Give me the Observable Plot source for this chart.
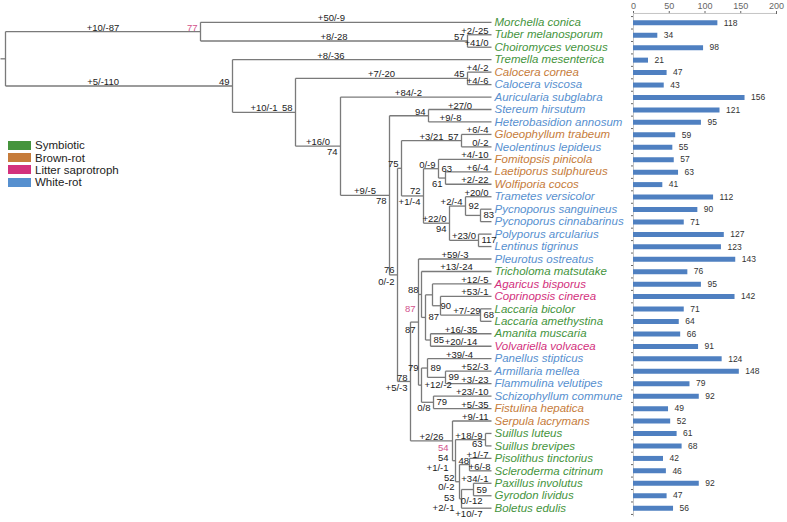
<!DOCTYPE html>
<html><head><meta charset="utf-8">
<script src="https://cdn.jsdelivr.net/npm/d3@7"></script>
<script src="https://cdn.jsdelivr.net/npm/@observablehq/plot@0.6"></script>
<style>
body{margin:0;background:#fff;font-family:Arial,"Liberation Sans",sans-serif;}
#wrap{position:relative;width:787px;height:522px;overflow:hidden;}
#wrap svg{position:absolute;left:0;top:0;}
#legend{position:absolute;left:8px;top:139px;font-size:11.5px;color:#222;z-index:5;}
.li{display:flex;align-items:center;height:12.4px;}
.sw{width:23px;height:9px;margin-right:4px;}
</style></head><body>
<div id="wrap"><div id="legend"></div></div>
<script>
// ---------------- data ----------------
const species = ["Morchella conica","Tuber melanosporum","Choiromyces venosus","Tremella mesenterica","Calocera cornea","Calocera viscosa","Auricularia subglabra","Stereum hirsutum","Heterobasidion annosum","Gloeophyllum trabeum","Neolentinus lepideus","Fomitopsis pinicola","Laetiporus sulphureus","Wolfiporia cocos","Trametes versicolor","Pycnoporus sanguineus","Pycnoporus cinnabarinus","Polyporus arcularius","Lentinus tigrinus","Pleurotus ostreatus","Tricholoma matsutake","Agaricus bisporus","Coprinopsis cinerea","Laccaria bicolor","Laccaria amethystina","Amanita muscaria","Volvariella volvacea","Panellus stipticus","Armillaria mellea","Flammulina velutipes","Schizophyllum commune","Fistulina hepatica","Serpula lacrymans","Suillus luteus","Suillus brevipes","Pisolithus tinctorius","Scleroderma citrinum","Paxillus involutus","Gyrodon lividus","Boletus edulis"];
const guild = ["Symbiotic","Symbiotic","Symbiotic","Symbiotic","Brown-rot","White-rot","White-rot","White-rot","White-rot","Brown-rot","White-rot","Brown-rot","Brown-rot","Brown-rot","White-rot","White-rot","White-rot","White-rot","White-rot","White-rot","Symbiotic","Litter saprotroph","Litter saprotroph","Symbiotic","Symbiotic","Symbiotic","Litter saprotroph","White-rot","White-rot","White-rot","White-rot","Brown-rot","Brown-rot","Symbiotic","Symbiotic","Symbiotic","Symbiotic","Symbiotic","Symbiotic","Symbiotic"];
const geneCount = [118,34,98,21,47,43,156,121,95,59,55,57,63,41,112,90,71,127,123,143,76,95,142,71,64,66,91,124,148,79,92,49,52,61,68,42,46,92,47,56];
const guildNames = ["Symbiotic","Brown-rot","Litter saprotroph","White-rot"];
const axisTicks = [0,50,100,150,200];
const leafDepth = 486;
const treeNewick = "((Morchella_conica,(Tuber_melanosporum,Choiromyces_venosus)B:267)A:195,(Tremella_mesenterica,((Calocera_cornea,Calocera_viscosa)E:172,(Auricularia_subglabra,((Stereum_hirsutum,Heterobasidion_annosum)H:39,(((Gloeophyllum_trabeum,Neolentinus_lepideus)L:60,((Fomitopsis_pinicola,(Laetiporus_sulphureus,Wolfiporia_cocos)O:7)N:15,((Trametes_versicolor,(Pycnoporus_sanguineus,Pycnoporus_cinnabarinus)Rp:15)Q:16,(Polyporus_arcularius,Lentinus_tigrinus)S:29)P:26)M:22)K:4,((Pleurotus_ostreatus,(Tricholoma_matsutake,((Agaricus_bisporus,(Coprinopsis_cinerea,(Laccaria_bicolor,Laccaria_amethystina)Lac:40)V4:8)V3:7,(Amanita_muscaria,Volvariella_volvacea)V5:5)V2:4)V:3,((Panellus_stipticus,(Armillaria_mellea,Flammulina_velutipes)W2:18)W1:6,(Schizophyllum_commune,Fistulina_hepatica)W3:12)W:3)U:8,(Serpula_lacrymans,((Suillus_luteus,Suillus_brevipes)Su:30,((Pisolithus_tinctorius,Scleroderma_citrinum)Sc:10,((Paxillus_involutus,Gyrodon_lividus)X4:12,Boletus_edulis)X3:2)X2:4)X1:3)X:42)T:13)J:8)G:49)F:45)D:63)C:227);";
const gainLoss = [["A","+10/-87"],["Morchella conica","+50/-9"],["B","+8/-28"],["Tuber melanosporum","+2/-25"],["Choiromyces venosus","+41/0"],
["C","+5/-110"],["Tremella mesenterica","+8/-36"],["D","+10/-1"],["E","+7/-20"],["Calocera cornea","+4/-2"],["Calocera viscosa","+4/-6"],
["F","+16/0"],["Auricularia subglabra","+84/-2"],["G","+9/-5"],["Stereum hirsutum","+27/0"],["Heterobasidion annosum","+9/-8"],
["J","0/-2"],["L","+3/21"],["Gloeophyllum trabeum","+6/-4"],["Neolentinus lepideus","0/-2"],["M","+1/-4"],["N","0/-9"],
["Fomitopsis pinicola","+4/-10"],["Laetiporus sulphureus","+6/-4"],["Wolfiporia cocos","+2/-22"],["P","+22/0"],["Q","+2/-4"],["Trametes versicolor","+20/0"],["S","+23/0"],
["T","+5/-3"],["Pleurotus ostreatus","+59/-3"],["Tricholoma matsutake","+13/-24"],["Agaricus bisporus","+12/-5"],["Coprinopsis cinerea","+53/-1"],["Lac","+7/-29"],["Amanita muscaria","+16/-35"],["Volvariella volvacea","+20/-14"],
["W","+12/-2"],["Panellus stipticus","+39/-4"],["Armillaria mellea","+52/-3"],["Flammulina velutipes","+3/-23"],["W3","0/8"],["Schizophyllum commune","+23/-10"],["Fistulina hepatica","+5/-35"],
["X","+2/26"],["Serpula lacrymans","+9/-11"],["Su","+18/-9"],["X1","+1/-1"],["Pisolithus tinctorius","+1/-7"],["Scleroderma citrinum","+6/-8"],["X2","0/-2"],["Paxillus involutus","+34/-1"],["X3","+2/-1"],["Gyrodon lividus","0/-12"],["Boletus edulis","+10/-7"]];
const support = [["B","57"],["C","49"],["D","58"],["E","45"],["F","74"],["G","78"],["H","94"],["J","76"],["K","75"],["L","57"],["M","72"],["N","63"],["O","61"],["P","94"],["Q","92"],["Rp","83"],["S","117"],["T","78"],["U","87"],["V","88"],["V2","87"],["V4","90"],["Lac","68"],["V5","85"],["W","79"],["W1","89"],["W2","99"],["W3","79"],["X1","54"],["X1","48"],["Su","63"],["X2","52"],["X3","53"],["X4","59"]];
const supportAlt = [["A","77"],["U","87"],["X1","54"]];

// ---------------- styling / placement ----------------
const FONT = "Arial, 'Liberation Sans', sans-serif";
const guildColor = {"Symbiotic":"#45943d","Brown-rot":"#c67c3b","Litter saprotroph":"#d3317d","White-rot":"#5790cf"};
const PINK = "#d2528c";
const CH = 4.8;
const place = {
  "gl:Morchella conica": {g: "midAbove", at: 0.45}, "gl:Tremella mesenterica": {g: "midAbove", at: 0.38},
  "gl:C": {g: "midAbove", at: 0.43}, "gl:Auricularia subglabra": {g: "midAbove", at: 0.45},
  "gl:Heterobasidion annosum": {g: "midAbove", at: 0.35},
  "gl:J": {g: "endBelow", dy: 3}, "gl:M": {g: "endBelow"}, "gl:T": {g: "endBelow", dy: 3}, "gl:W3": {g: "endBelow"},
  "gl:W": {g: "startMid"}, "gl:Lac": {g: "endAbove", dx: 0},
  "gl:X1": {g: "endBelow", dx: -7, dy: 4}, "gl:X2": {g: "endBelow", dx: -5}, "gl:X3": {g: "endBelow", dx: -7, dy: 5},
  "gl:Gyrodon lividus": {g: "endBelow", dx: -9}, "gl:Boletus edulis": {g: "endBelow", dx: -9},
  "gl:Scleroderma citrinum": {g: "endAbove", dx: -1}, "gl:Pisolithus tinctorius": {g: "endAbove", dy: 0},
  "F|74": {g: "endBelow"}, "G|78": {g: "endBelow"}, "O|61": {g: "endBelow"}, "P|94": {g: "endBelow", dy: 2}, "Su|63": {g: "endBelow", dy: 1},
  "U|87": {g: "endBelow", dy: 4}, "U|87|alt": {g: "endAbove", dy: -10}, "W|79": {g: "endAbove", dy: -14},
  "T|78": {g: "endAbove", dy: 0}, "J|76": {g: "endAbove", dy: -2}, "M|72": {g: "endAbove", dy: -2},
  "N|63": {g: "startMid"}, "Q|92": {g: "startMid"}, "Rp|83": {g: "startMid"}, "S|117": {g: "startMid"}, "Lac|68": {g: "startMid"},
  "V4|90": {g: "startMid", dx: 0}, "V2|87": {g: "startMid"}, "V5|85": {g: "startMid"}, "W1|89": {g: "startMid"}, "W2|99": {g: "startMid"},
  "W3|79": {g: "startMid"}, "X1|48": {g: "startMid"}, "X4|59": {g: "startMid"},
  "X1|54": {g: "endMid", dx: -7, dy: -3}, "X1|54|alt": {g: "endAbove", dx: -7, dy: -10},
  "X2|52": {g: "endAbove", dx: -5}, "X3|53": {g: "endMid", dx: -7, dy: -1}
};
const groupBase = {
  midAbove: {textAnchor: "middle", lineAnchor: "bottom", dx: 0, dy: -1},
  endAbove: {textAnchor: "end", lineAnchor: "bottom", dx: -3, dy: -1},
  endBelow: {textAnchor: "end", lineAnchor: "top", dx: -3, dy: 2},
  startMid: {textAnchor: "start", lineAnchor: "middle", dx: 3, dy: 0},
  endMid: {textAnchor: "end", lineAnchor: "middle", dx: -3, dy: 0}
};

// ---------------- tree layout ----------------
function parseNewick(str) {
  const s = str.replace(/\s+/g, "");
  let i = 0;
  function node() {
    const n = {children: [], length: 0};
    if (s[i] === "(") {
      i++;
      n.children.push(node());
      while (s[i] === ",") { i++; n.children.push(node()); }
      i++;
    }
    let name = "";
    while (i < s.length && !",():;".includes(s[i])) name += s[i++];
    n.name = name.replace(/_/g, " ");
    if (s[i] === ":") { i++; let num = ""; while (i < s.length && !",();".includes(s[i])) num += s[i++]; n.length = +num; }
    return n;
  }
  return node();
}
const root = parseNewick(treeNewick);
const nodes = [], byName = new Map();
(function lay(n, parent) {
  n.parent = parent;
  n.x = !parent ? 0 : (n.children.length ? parent.x + n.length : leafDepth);
  n.children.forEach(c => lay(c, n));
  n.y = n.children.length ? (n.children[0].y + n.children[n.children.length - 1].y) / 2 : species.indexOf(n.name);
  nodes.push(n); if (n.name) byName.set(n.name, n);
})(root, null);

const segs = [{x1: -5, y1: root.y, x2: 0, y2: root.y}];
for (const n of nodes) {
  if (n.parent) segs.push({x1: n.parent.x, y1: n.y, x2: n.x, y2: n.y});
  if (n.children.length) segs.push({x1: n.x, y1: n.children[0].y, x2: n.x, y2: n.children[n.children.length - 1].y});
}
const leaves = nodes.filter(n => !n.children.length);

const lab = [];
function addLabel(n, text, key, defG, fill) {
  const o = place[key] || {g: defG};
  const base = groupBase[o.g];
  let x = n.x;
  if (o.g === "midAbove") x = n.parent.x + (o.at ?? 0.5) * (n.x - n.parent.x);
  lab.push({g: o.g, dx: o.dx ?? base.dx, dy: o.dy ?? base.dy, x, y: n.y, text, fill});
}
for (const [nm, t] of gainLoss) {
  const n = byName.get(nm);
  const len = n.x - n.parent.x;
  const defG = !n.children.length ? (len > 60 ? "midAbove" : "endAbove") : (len > t.length * CH + 4 ? "midAbove" : "endAbove");
  addLabel(n, t, "gl:" + nm, defG, "#222");
}
for (const [nm, t] of support) addLabel(byName.get(nm), t, nm + "|" + t, "endAbove", "#222");
for (const [nm, t] of supportAlt) addLabel(byName.get(nm), t, nm + "|" + t + "|alt", "endAbove", PINK);

const labelMarks = Array.from(d3.group(lab, d => `${d.g}|${d.dx}|${d.dy}`), ([k, arr]) => {
  const d0 = arr[0], base = groupBase[d0.g];
  return Plot.text(arr, {x: "x", y: "y", text: "text", fill: "fill", fontSize: 9.5,
    textAnchor: base.textAnchor, lineAnchor: base.lineAnchor, dx: d0.dx, dy: d0.dy});
});

// ---------------- bars ----------------
const idx = d3.range(species.length);
const barPlot = Plot.plot({
  width: 787, height: 522,
  marginTop: 13, marginLeft: 633, marginRight: 11, marginBottom: 5,
  style: {background: "white", fontFamily: FONT, fontSize: "9px", color: "#666"},
  x: {domain: [0, 200], range: [633, 776], axis: "top", ticks: axisTicks, tickSize: 3, tickPadding: 2, label: null},
  y: {domain: [0, species.length - 1], range: [22.3, 507.7], axis: "left", ticks: d3.range(-0.5, species.length, 1), tickSize: 2, tickFormat: () => "", label: null},
  marks: [
    Plot.ruleY([-0.75], {x1: 0, x2: 200, stroke: "#c4c4c4"}),
    Plot.ruleX([0], {y1: -0.75, y2: species.length - 0.3, stroke: "#c4c4c4"}),
    Plot.ruleY(idx, {y: i => i, x1: 0, x2: i => geneCount[i], stroke: "#4f80c1", strokeWidth: 5}),
    Plot.text(idx, {x: i => geneCount[i], y: i => i, text: i => String(geneCount[i]), dx: 6, textAnchor: "start", fontSize: 8.5, fill: "#333"})
  ]
});

// ---------------- tree ----------------
const treePlot = Plot.plot({
  width: 787, height: 522, margin: 0,
  style: {background: "transparent", fontFamily: FONT, fontSize: "9.5px"},
  x: {domain: [-5, leafDepth], range: [0, 491], axis: null},
  y: {domain: [0, species.length - 1], range: [21.8, 507.7], axis: null},
  marks: [
    Plot.link(segs, {x1: "x1", y1: "y1", x2: "x2", y2: "y2", stroke: "#7a7a7a", strokeWidth: 1.3}),
    Plot.text(leaves, {x: "x", y: "y", text: "name", dx: 3, textAnchor: "start",
      fill: d => guildColor[guild[species.indexOf(d.name)]], fontStyle: "italic", fontSize: 11.5, ariaLabel: "species"}),
    ...labelMarks
  ]
});
treePlot.querySelectorAll('g[aria-label="species"] text').forEach(t => t.style.wordSpacing = "3px");

const wrap = document.getElementById("wrap");
wrap.insertBefore(treePlot, wrap.firstChild);
wrap.insertBefore(barPlot, wrap.firstChild);

const legend = document.getElementById("legend");
for (const g of guildNames) {
  const row = document.createElement("div"); row.className = "li";
  const sw = document.createElement("div"); sw.className = "sw"; sw.style.background = guildColor[g];
  const tx = document.createElement("span"); tx.textContent = g;
  row.append(sw, tx); legend.append(row);
}
</script>
</body></html>
